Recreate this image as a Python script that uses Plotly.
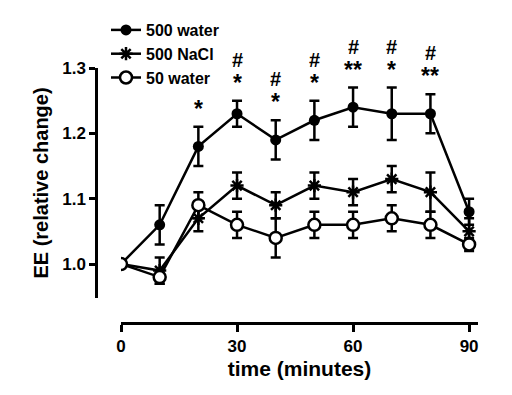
import plotly.graph_objects as go

time = [0, 10, 20, 30, 40, 50, 60, 70, 80, 90]

water500 = [1.00, 1.06, 1.18, 1.23, 1.19, 1.22, 1.24, 1.23, 1.23, 1.08]
water500_err = [0.00, 0.03, 0.03, 0.02, 0.03, 0.03, 0.03, 0.04, 0.03, 0.02]

nacl500 = [1.00, 0.99, 1.07, 1.12, 1.09, 1.12, 1.11, 1.13, 1.11, 1.05]
nacl500_err = [0.00, 0.02, 0.02, 0.02, 0.02, 0.02, 0.02, 0.02, 0.03, 0.02]

water50 = [1.00, 0.98, 1.09, 1.06, 1.04, 1.06, 1.06, 1.07, 1.06, 1.03]
water50_err = [0.00, 0.01, 0.02, 0.02, 0.03, 0.02, 0.02, 0.02, 0.02, 0.01]

sig_time = [20, 30, 40, 50, 60, 70, 80]
star_labels = ["*", "*", "*", "*", "**", "*", "**"]
hash_labels = ["", "#", "#", "#", "#", "#", "#"]

y_ticks = [1.0, 1.1, 1.2, 1.3]
x_ticks = [0, 30, 60, 90]

FONT = "Liberation Sans, Arial, sans-serif"
LW = 2.5

fig = go.Figure()

def err(arr):
    return dict(type="data", array=arr, visible=True, thickness=LW, width=5, color="black")

fig.add_trace(go.Scatter(
    x=time, y=water500, error_y=err(water500_err), name="500 water",
    mode="lines+markers", line=dict(color="black", width=LW),
    marker=dict(symbol="circle", size=11, color="black")))
fig.add_trace(go.Scatter(
    x=time, y=nacl500, error_y=err(nacl500_err), name="500 NaCl",
    mode="lines+markers", line=dict(color="black", width=LW),
    marker=dict(symbol="asterisk", size=11, color="black",
                line=dict(color="black", width=2.5))))
fig.add_trace(go.Scatter(
    x=time, y=water50, error_y=err(water50_err), name="50 water",
    mode="lines+markers", line=dict(color="black", width=LW),
    marker=dict(symbol="circle", size=12, color="white",
                line=dict(color="black", width=2.5))))

top = {t: v + e for t, v, e in zip(time, water500, water500_err)}
for t, s, h in zip(sig_time, star_labels, hash_labels):
    fig.add_annotation(x=t, y=top[t], text=s, showarrow=False, yshift=3,
                       yanchor="bottom", font=dict(family=FONT, size=23, color="black"))
    if h:
        fig.add_annotation(x=t, y=top[t], text=h, showarrow=False, yshift=28,
                           yanchor="bottom", font=dict(family=FONT, size=20, color="black"))

# page body has an 8px margin; lay out in reference pixel coords minus offset
O = 8
W, H = 512 - O, 395 - O
L, R, T, B = 96 - O, 512 - 478, 8, 395 - 323
pw = W - L - R
ph = H - T - B

fig.update_layout(
    width=W, height=H,
    margin=dict(l=L, r=R, t=T, b=B, pad=0, autoexpand=False),
    plot_bgcolor="white", paper_bgcolor="white",
    font=dict(family=FONT, size=14, color="black", weight="bold"),
    showlegend=True,
    legend=dict(x=(106 - 96) / pw, y=(323 - 13) / ph, xanchor="left", yanchor="top",
                bgcolor="rgba(0,0,0,0)", font=dict(size=16, weight="bold"),
                tracegroupgap=0, itemwidth=30),
    xaxis=dict(domain=[(121 - 96) / pw, 1], range=[0, 92.3], anchor="free", position=0,
               automargin=False,
               showline=True, linecolor="black", linewidth=LW,
               ticks="outside", ticklen=7, tickwidth=LW, tickcolor="black",
               tickvals=x_ticks, ticktext=[str(v) for v in x_ticks],
               showgrid=False, zeroline=False,
               tickfont=dict(size=17, weight="bold"),
               title=dict(text="time (minutes)", font=dict(size=21, weight="bold"), standoff=6)),
    yaxis=dict(domain=[(323 - 298) / ph, (323 - 68) / ph], range=[0.948, 1.3], anchor="free", position=0,
               automargin=False,
               showline=True, linecolor="black", linewidth=LW,
               ticks="outside", ticklen=6, tickwidth=LW, tickcolor="black",
               tickvals=y_ticks, ticktext=["1.0", "1.1", "1.2", "1.3"],
               showgrid=False, zeroline=False,
               tickfont=dict(size=17, weight="bold"),
               title=dict(text="EE (relative change)", font=dict(size=20, weight="bold"), standoff=7)),
)

fig.write_html("out.html")
